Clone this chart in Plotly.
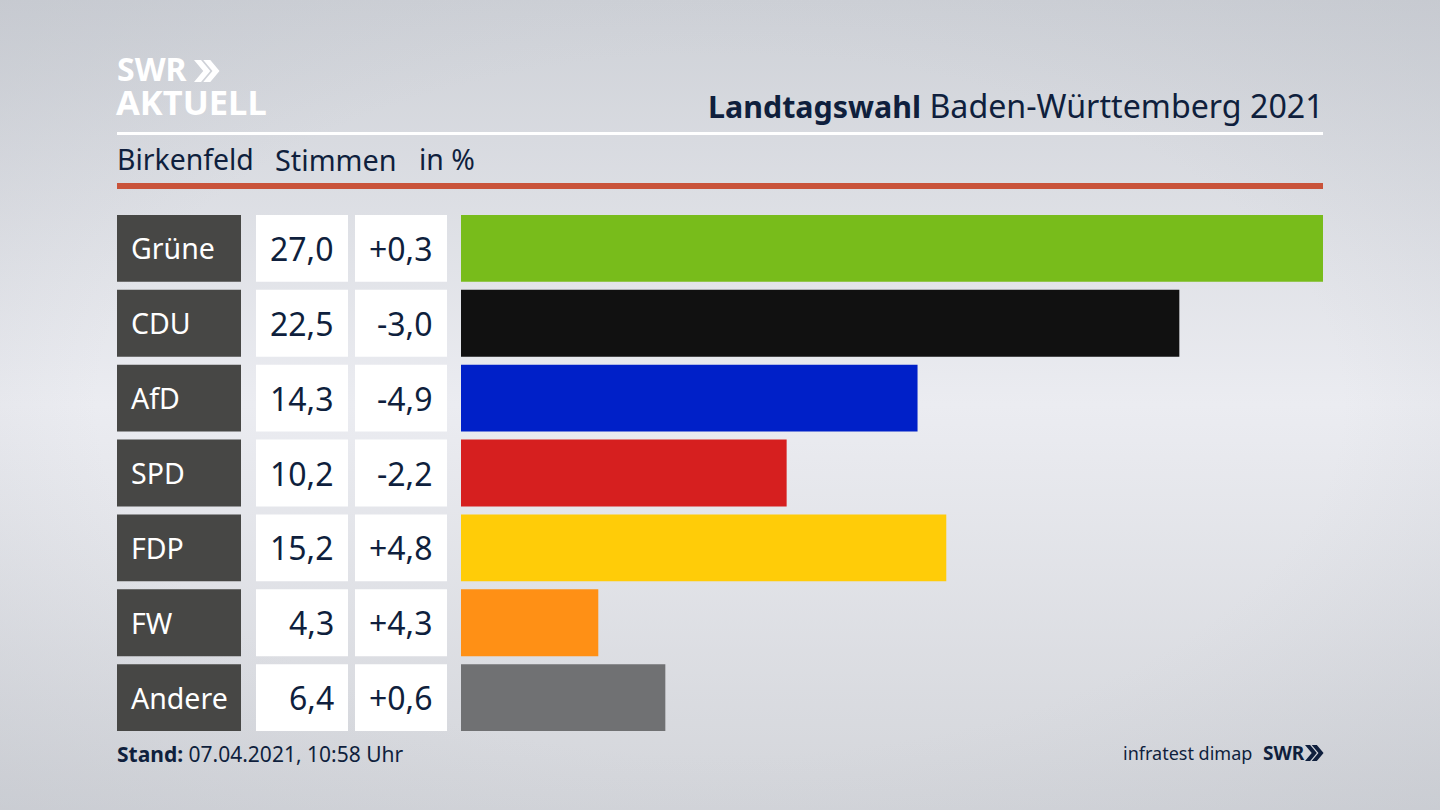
import base64
import plotly.graph_objects as go

W, H = 1440, 810

# --- data ---
parties = ["Grüne", "CDU", "AfD", "SPD", "FDP", "FW", "Andere"]
votes = [27.0, 22.5, 14.3, 10.2, 15.2, 4.3, 6.4]
changes = [0.3, -3.0, -4.9, -2.2, 4.8, 4.3, 0.6]
bar_colors = ["#78bc1b", "#111111", "#0020c8", "#d61f1f", "#ffcc08", "#ff9015", "#707173"]

NAVY = "#0f1f3d"
FONT = "Noto Sans"


def px_x(x):
    return x / W


def px_y(y):
    return 1 - y / H


def de(v, sign=False):
    # German decimal comma
    s = f"{v:+.1f}" if sign else f"{v:.1f}"
    return s.replace(".", ",")


fig = go.Figure()

# main bars
fig.add_trace(go.Bar(x=votes, y=parties, orientation="h", marker_color=bar_colors,
                     marker_line_width=0, xaxis="x", yaxis="y", hoverinfo="x+y"))

# the three table columns are full-width bars on their own axes
full = [1] * len(parties)
for ax, col in (("x2", "#474745"), ("x3", "#ffffff"), ("x4", "#ffffff")):
    fig.add_trace(go.Bar(x=full, y=parties, orientation="h", marker_color=col,
                         marker_line_width=0, xaxis=ax, yaxis="y", hoverinfo="skip"))

annotations = []


def label(text, x, y, size, color=NAVY, anchor="left", yref="paper", yshift=0):
    # annotations carry a little padding, the xshift takes it back out
    annotations.append(dict(
        text=text, x=px_x(x), y=y if yref == "y" else px_y(y), xref="paper", yref=yref,
        xanchor=anchor, yanchor="middle", showarrow=False,
        font=dict(family=FONT, size=size, color=color),
        xshift=-2 if anchor == "left" else 3, yshift=yshift,
    ))


# table text
for p, v, c in zip(parties, votes, changes):
    label(p, 131, p, 28.5, "#ffffff", "left", "y")
    label(de(v), 333, p, 32, NAVY, "right", "y")
    label(de(c, sign=True), 432, p, 32, NAVY, "right", "y")

# header
label('<span style="font-size:30.4px"><b>Landtagswahl</b></span> Baden-Württemberg 2021',
      1323, 105, 32.2, NAVY, "right")
label("Birkenfeld", 117, 159, 28.4)
label("Stimmen", 275, 159, 28.8)
label("in %", 419, 159, 28.4)

# logo text
label("<b>SWR</b>", 117, 69, 32, "#ffffff")
label("<b>AKTUELL</b>", 116, 102, 34.5, "#ffffff")

# footer
label("<b>Stand:</b> 07.04.2021, 10:58 Uhr", 117, 754, 21)
label("infratest dimap", 1251, 753, 18, NAVY, "right")
label("<b>SWR</b>", 1263, 753, 19, NAVY)


def chevrons(x0, y0, h, color):
    # two right-pointing chevrons, used by the SWR logo
    w = h * 0.42
    t = h * 0.32
    out = []
    for dx in (0, h * 0.42):
        x = x0 + dx
        path = (f"M{px_x(x)},{px_y(y0)} L{px_x(x + t)},{px_y(y0)} "
                f"L{px_x(x + t + w)},{px_y(y0 + h / 2)} L{px_x(x + t)},{px_y(y0 + h)} "
                f"L{px_x(x)},{px_y(y0 + h)} L{px_x(x + w)},{px_y(y0 + h / 2)} Z")
        out.append(dict(type="path", path=path, xref="paper", yref="paper",
                        fillcolor=color, line_width=0))
    return out


shapes = [
    dict(type="rect", xref="paper", yref="paper", x0=px_x(117), x1=px_x(1323),
         y0=px_y(135), y1=px_y(132), fillcolor="#ffffff", line_width=0),
    dict(type="rect", xref="paper", yref="paper", x0=px_x(117), x1=px_x(1323),
         y0=px_y(189), y1=px_y(183), fillcolor="#c9533a", line_width=0),
]
shapes += chevrons(194, 60, 22, "#ffffff")
shapes += chevrons(1305, 745, 16, NAVY)

# grey backdrop: light band through the middle, darker towards the edges
svg = f"""<svg xmlns='http://www.w3.org/2000/svg' width='{W}' height='{H}'>
<defs>
<linearGradient id='v' x1='0' y1='0' x2='0' y2='1'>
<stop offset='0%' stop-color='#ced1d7'/><stop offset='50%' stop-color='#ebecf1'/>
<stop offset='100%' stop-color='#d3d5da'/></linearGradient>
<radialGradient id='e' cx='50%' cy='50%' r='72%'>
<stop offset='60%' stop-color='#b8bcc4' stop-opacity='0'/>
<stop offset='100%' stop-color='#b8bcc4' stop-opacity='0.35'/></radialGradient>
</defs>
<rect width='100%' height='100%' fill='url(#v)'/>
<rect width='100%' height='100%' fill='url(#e)'/></svg>"""
bg = "data:image/svg+xml;base64," + base64.b64encode(svg.encode()).decode()

fig.update_layout(
    width=W, height=H,
    margin=dict(l=0, r=0, t=0, b=0),
    showlegend=False,
    barmode="overlay",
    bargap=8 / 75,
    paper_bgcolor="#dfe1e6",
    plot_bgcolor="rgba(0,0,0,0)",
    font=dict(family=FONT, color=NAVY),
    images=[dict(source=bg, xref="paper", yref="paper", x=0, y=1, sizex=1, sizey=1,
                 xanchor="left", yanchor="top", sizing="stretch", layer="below")],
    annotations=annotations,
    shapes=shapes,
    yaxis=dict(categoryorder="array", categoryarray=parties, autorange="reversed",
               domain=[px_y(735), px_y(211)], visible=False),
    xaxis=dict(domain=[px_x(461), px_x(1323)], range=[0, 27], visible=False),
    xaxis2=dict(domain=[px_x(117), px_x(241)], range=[0, 1], visible=False, anchor="y"),
    xaxis3=dict(domain=[px_x(256), px_x(348)], range=[0, 1], visible=False, anchor="y"),
    xaxis4=dict(domain=[px_x(355), px_x(447)], range=[0, 1], visible=False, anchor="y"),
)

fig.write_html("out.html", config={"displayModeBar": False},
               post_script="document.body.style.margin='0';")
